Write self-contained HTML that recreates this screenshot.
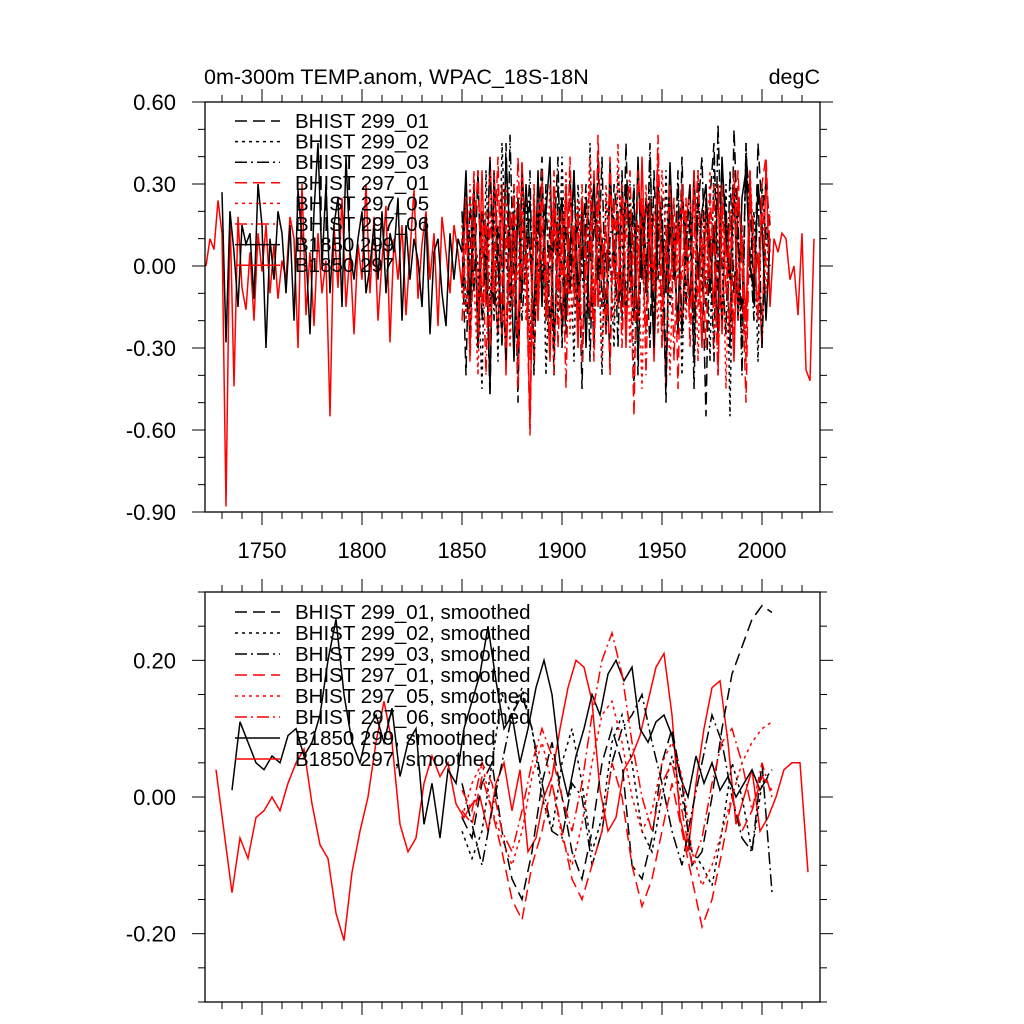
<!DOCTYPE html>
<html><head><meta charset="utf-8"><style>
html,body{margin:0;padding:0;background:#fff;}
svg{display:block;font-family:"Liberation Sans",sans-serif;}
</style></head><body>
<svg id="chart" width="1024" height="1024" viewBox="0 0 1024 1024" xmlns="http://www.w3.org/2000/svg">
<text x="204" y="84" font-size="21.5">0m-300m TEMP.anom, WPAC_18S-18N</text>
<text x="820" y="84" font-size="21.5" text-anchor="end">degC</text>
<g id="top"></g>
<g id="bot"></g>
</svg>
<script>
const labels = ["BHIST 299_01","BHIST 299_02","BHIST 299_03","BHIST 297_01","BHIST 297_05","BHIST 297_06","B1850 299","B1850 297"];
const xTicks = [1750,1800,1850,1900,1950,2000];
const topYTicks = [0.6,0.3,0,-0.3,-0.6,-0.9];
const topYLabels = ["0.60","0.30","0.00","-0.30","-0.60","-0.90"];
const botYTicks = [0.2,0,-0.2];
const botYLabels = ["0.20","0.00","-0.20"];

const b297Start = 1722, b297Step = 2;
const b297 = [0.00,0.10,0.06,0.24,0.12,-0.88,0.20,-0.44,0.18,-0.08,-0.16,0.05,-0.20,0.12,-0.02,0.15,-0.10,0.08,-0.12,0.02,
-0.05,0.18,0.10,-0.30,0.30,-0.18,0.05,-0.22,0.12,-0.10,0.02,-0.55,0.15,-0.08,0.25,-0.15,0.05,-0.25,0.08,-0.05,
0.30,-0.10,0.18,-0.20,0.02,0.22,-0.28,0.10,-0.05,0.15,-0.18,0.05,0.28,-0.12,0.08,0.20,-0.05,0.12,-0.22,0.18,
0.05,-0.10,0.15,0.05,-0.08,0.25,-0.32,0.30,-0.20,0.35,-0.15,0.40,-0.05,-0.25,0.30,-0.40,0.20,0.10,-0.30,0.38,
0.05,-0.58,0.25,-0.20,0.30,0.00,-0.35,0.20,0.10,-0.25,0.30,-0.10,0.15,-0.30,0.25,0.05,-0.20,0.35,-0.15,0.10,
-0.25,0.30,0.00,-0.15,0.28,-0.30,0.20,0.05,-0.20,0.40,-0.10,0.25,-0.35,0.15,0.05,-0.45,0.30,-0.05,0.20,-0.25,
0.15,0.30,-0.20,0.05,-0.30,0.25,0.10,-0.15,0.30,-0.25,0.20,0.00,-0.35,0.25,0.10,-0.20,0.35,-0.10,0.05,-0.30,
0.38,-0.15,0.10,0.05,0.12,0.10,-0.05,0.00,-0.18,0.12,-0.38,-0.42,0.10];
const b299Start = 1730, b299Step = 2;
const b299 = [0.27,-0.28,0.20,0.05,-0.15,0.15,0.08,0.12,-0.12,0.30,0.15,-0.30,0.10,-0.05,0.20,0.12,-0.10,0.15,-0.20,0.28,
0.10,0.05,-0.25,0.20,0.45,0.00,0.30,-0.10,0.15,0.25,-0.15,0.40,0.05,-0.05,0.10,0.20,-0.10,0.00,0.15,-0.05,
0.20,-0.10,0.12,0.05,0.25,-0.20,0.15,-0.05,0.10,0.02,-0.15,0.18,-0.25,0.05,0.10,-0.10,-0.22,0.12,-0.05,0.10,
0.05,0.35,-0.15,0.30,-0.30,0.20,0.10,-0.45,0.35,0.00,-0.25,0.40,0.10,-0.35,0.25,-0.10,0.30,0.05,-0.20,0.35,
-0.15,0.20,0.40,-0.30,0.10,0.25,-0.20,0.05,0.35,-0.10,0.20,-0.30,0.15,0.30,-0.05,0.10,-0.25,0.38,0.00,0.20,
-0.15,0.30,0.10,-0.20,0.40,-0.05,0.25,0.05,-0.30,0.30,0.15,-0.10,0.38,0.00,-0.20,0.25,0.10,-0.15,0.35,-0.05,
0.20,0.30,-0.10,0.15,-0.25,0.40,0.10,-0.05,0.30,-0.20,0.25,0.35,0.00,-0.10,0.30,0.15,-0.20,0.10];
const histStart = 1850, histStep = 2;
const h29901 = [0.10,-0.40,0.25,-0.10,0.35,-0.20,0.05,-0.48,0.30,0.10,-0.30,0.45,-0.15,0.20,-0.50,0.35,-0.05,0.25,-0.35,0.10,
0.40,-0.20,0.15,-0.40,0.30,0.00,-0.25,0.35,-0.10,0.20,-0.45,0.25,0.10,-0.30,0.40,-0.15,0.05,-0.35,0.30,0.15,
-0.20,0.45,-0.10,0.25,-0.40,0.20,0.05,-0.30,0.35,-0.05,0.15,-0.50,0.30,0.10,-0.25,0.40,-0.15,0.20,-0.35,0.30,
0.05,-0.55,0.25,0.45,-0.10,0.35,0.20,-0.30,0.50,0.10,-0.20,0.40,0.25,-0.15,0.45,0.20,0.30,0.15];
const h29902 = [-0.10,0.30,-0.25,0.15,0.00,-0.45,0.35,-0.15,0.20,-0.35,0.45,0.05,-0.20,0.30,-0.40,0.10,0.25,-0.30,0.15,-0.10,
0.35,-0.40,0.05,0.25,-0.20,0.40,-0.10,0.10,-0.35,0.30,0.00,-0.25,0.45,-0.20,0.15,-0.40,0.25,0.05,-0.30,0.35,
0.10,-0.20,0.30,-0.45,0.15,0.05,-0.25,0.40,-0.10,0.20,-0.30,0.35,-0.15,0.00,0.30,-0.40,0.20,0.10,-0.25,0.35,
-0.10,0.25,-0.35,0.40,0.05,-0.20,0.30,-0.55,0.35,0.10,-0.30,0.45,-0.05,0.20,-0.35,0.30,0.10,0.00];
const h29903 = [0.20,-0.15,0.05,0.30,-0.30,0.10,-0.05,0.40,-0.20,0.15,0.00,-0.35,0.48,-0.10,0.25,-0.20,0.05,0.35,-0.40,0.20,
-0.05,0.30,-0.25,0.10,0.40,-0.30,0.15,-0.10,0.35,-0.20,0.05,0.30,-0.35,0.20,-0.05,0.40,-0.25,0.10,0.20,-0.30,
0.35,-0.15,0.05,0.30,-0.35,0.20,-0.10,0.45,-0.20,0.10,0.25,-0.40,0.15,-0.05,0.35,-0.25,0.05,0.30,-0.45,0.20,
0.40,-0.15,0.10,-0.35,0.52,0.00,-0.25,0.35,-0.10,0.20,-0.40,0.45,0.05,-0.20,0.30,-0.30,0.15,0.05];
const h29701 = [-0.05,0.25,-0.35,0.10,0.35,-0.15,0.20,-0.30,0.05,0.40,-0.25,0.15,-0.10,0.30,-0.45,0.20,0.00,-0.62,0.25,-0.10,
0.35,-0.20,0.05,0.25,-0.30,0.15,-0.10,0.40,-0.15,0.20,-0.35,0.10,0.30,-0.25,0.48,-0.05,0.15,-0.40,0.25,-0.10,
0.30,-0.20,0.05,-0.55,0.35,0.10,-0.25,0.20,-0.05,0.40,-0.30,0.15,-0.10,0.25,-0.45,0.30,0.05,-0.20,0.35,-0.15,
0.10,-0.30,0.25,0.05,-0.40,0.30,-0.10,0.20,-0.25,0.35,0.00,-0.50,0.25,0.10,-0.20,0.30,0.40,0.05];
const h29705 = [0.15,-0.20,0.30,-0.05,-0.40,0.20,0.10,-0.25,0.35,-0.15,0.05,0.30,-0.30,0.15,-0.05,0.38,-0.20,0.10,-0.35,0.25,
0.05,-0.15,0.30,-0.40,0.20,-0.05,0.35,-0.25,0.10,0.25,-0.30,0.05,0.40,-0.15,0.20,-0.35,0.30,0.00,-0.20,0.45,
-0.10,0.25,-0.30,0.15,0.05,-0.45,0.30,-0.05,0.20,-0.25,0.35,0.10,-0.40,0.15,-0.05,0.30,-0.20,0.10,0.25,-0.35,
0.20,-0.10,0.35,-0.30,0.05,0.25,-0.45,0.15,0.30,-0.20,0.10,-0.30,0.35,0.05,-0.15,0.25,-0.10,0.20];
const h29706 = [-0.20,0.10,-0.05,0.35,-0.25,0.15,-0.40,0.20,-0.10,0.30,0.05,-0.30,0.20,-0.15,0.40,-0.05,0.10,-0.35,0.30,-0.20,
0.15,0.00,-0.30,0.35,-0.10,0.20,-0.45,0.25,0.05,-0.20,0.30,-0.10,0.15,-0.35,0.25,0.10,-0.25,0.40,-0.05,0.20,
-0.30,0.15,0.35,-0.20,0.05,0.25,-0.40,0.20,-0.10,0.48,-0.15,0.05,0.30,-0.35,0.15,-0.05,0.25,-0.30,0.10,0.35,
-0.25,0.15,-0.05,0.30,-0.40,0.20,0.05,-0.25,0.35,-0.10,0.15,-0.35,0.30,0.10,-0.20,0.25,0.00,0.10];

const smHistStart = 1850, smHistStep = 5;
const s29901 = [-0.03,-0.06,0.02,0.05,-0.05,-0.12,-0.15,-0.08,0.02,0.08,0.00,-0.08,-0.12,-0.05,0.05,0.10,0.05,-0.10,-0.12,-0.06,0.05,0.10,0.02,-0.10,-0.08,0.00,0.10,0.18,0.22,0.26,0.28,0.27];
const s29902 = [-0.05,-0.09,-0.05,0.05,0.15,0.12,0.16,0.10,0.00,-0.05,0.05,0.10,0.02,-0.08,-0.03,0.08,0.12,0.05,-0.05,-0.08,0.00,0.06,0.00,-0.08,-0.10,-0.13,-0.05,0.05,0.00,-0.08,0.02,0.04];
const s29903 = [0.02,-0.04,-0.10,-0.02,0.05,0.12,0.15,0.10,0.02,-0.05,-0.06,0.02,0.00,-0.10,-0.05,0.05,0.10,0.12,0.15,0.08,0.02,-0.05,-0.10,-0.02,0.05,0.12,0.08,0.00,-0.06,-0.08,0.05,-0.14];
const s29701 = [-0.02,-0.04,0.03,-0.02,-0.08,-0.15,-0.18,-0.10,-0.05,0.02,-0.05,-0.12,-0.15,-0.10,-0.05,0.05,0.00,-0.10,-0.16,-0.12,-0.05,0.02,-0.05,-0.12,-0.19,-0.15,-0.08,0.00,-0.05,-0.02,0.03,0.01];
const s29705 = [-0.03,0.02,0.05,-0.02,-0.06,-0.10,-0.05,0.03,0.08,0.02,-0.06,-0.10,-0.04,0.05,0.12,0.14,0.08,0.00,-0.05,-0.02,0.05,0.08,0.03,-0.08,-0.13,-0.10,-0.05,0.00,0.05,0.08,0.10,0.11];
const s29706 = [0.01,-0.02,0.05,0.02,-0.05,-0.08,-0.02,0.05,0.10,0.06,0.00,-0.05,0.02,0.12,0.20,0.24,0.18,0.08,0.00,-0.05,0.02,0.05,-0.02,-0.10,-0.06,0.02,0.08,0.10,0.05,-0.02,0.05,0.00];
const sb297Start = 1727, sb297Step = 4;
const sb297 = [0.04,-0.05,-0.14,-0.06,-0.09,-0.03,-0.02,0.00,-0.02,0.02,0.05,0.07,-0.01,-0.07,-0.09,-0.17,-0.21,-0.11,-0.05,0.00,0.08,0.14,0.08,-0.04,-0.08,-0.06,0.02,0.06,0.03,0.05,-0.01,-0.03,-0.01,0.00,-0.05,0.02,0.05,-0.02,0.04,-0.08,-0.06,0.00,0.03,0.10,0.16,0.20,0.19,0.14,0.01,-0.05,-0.03,0.04,0.06,0.09,0.14,0.19,0.21,0.12,-0.03,-0.08,0.02,0.10,0.16,0.17,0.08,-0.04,0.00,0.04,-0.05,-0.03,0.00,0.04,0.05,0.05,-0.11];
const sb299Start = 1735, sb299Step = 4;
const sb299 = [0.01,0.11,0.08,0.05,0.04,0.06,0.05,0.09,0.10,0.06,0.08,0.12,0.20,0.26,0.15,0.08,0.05,0.10,0.12,0.08,0.13,0.03,0.08,0.10,-0.04,0.02,-0.06,0.04,0.02,0.10,0.14,0.18,0.25,0.17,0.10,0.12,0.05,0.10,0.16,0.20,0.15,0.05,0.00,0.06,0.10,0.15,0.12,0.18,0.20,0.17,0.19,0.10,0.08,0.11,0.12,0.09,0.03,0.00,0.06,0.02,0.05,0.01,0.03,0.00,0.02,0.04,0.01,0.03];

const NS = "http://www.w3.org/2000/svg";
const X0 = 205, X1 = 820;
const yearMin = 1721.5, yearMax = 2029;
function xs(yr){ return X0 + (yr - yearMin) / (yearMax - yearMin) * (X1 - X0); }
const topP = {top:102, bottom:512, min:-0.9, max:0.6};
const botP = {top:592, bottom:1002, min:-0.3, max:0.3};
function ys(p, v){ return p.bottom - (v - p.min) / (p.max - p.min) * (p.bottom - p.top); }

function mk(tag, attrs, parent){
  const e = document.createElementNS(NS, tag);
  for (const k in attrs) e.setAttribute(k, attrs[k]);
  parent.appendChild(e);
  return e;
}
const styles = [
  {c:"#000", d:"12,6"},{c:"#000", d:"3,4"},{c:"#000", d:"12,4,2,4"},
  {c:"#f00", d:"12,6"},{c:"#f00", d:"3,4"},{c:"#f00", d:"12,4,2,4"},
  {c:"#000", d:""},{c:"#f00", d:""}
];

function drawSeries(g, p, arr, start, step, st, name){
  let d = "";
  arr.forEach((v,i)=>{ d += (i?"L":"M") + xs(start + i*step).toFixed(1) + "," + ys(p,v).toFixed(1); });
  const e = mk("path", {d:d, fill:"none", stroke:st.c, "stroke-width":"1.5", "stroke-dasharray":st.d||"none"}, g);
  
  
}

function drawAxes(g, p, yTicks, yLabels, minorStep, showX, panel){
  const box = mk("rect", {x:X0, y:p.top, width:X1-X0, height:p.bottom-p.top, fill:"none", stroke:"#000", "stroke-width":"1.3"}, g);
  
  
  for (let v = p.min; v <= p.max + 1e-9; v += minorStep){
    const y = ys(p, v);
    const major = yTicks.some(t => Math.abs(t - v) < 1e-6);
    const L = major ? 13 : 7;
    const t1 = mk("line", {x1:X0-L, x2:X0, y1:y, y2:y, stroke:"#000", "stroke-width":"1"}, g);
    
    
    const t2 = mk("line", {x1:X1, x2:X1+L, y1:y, y2:y, stroke:"#000", "stroke-width":"1"}, g);
    
    
  }
  yTicks.forEach((v,i)=>{
    const t = mk("text", {x:176, y:ys(p,v)+8, "font-size":"22", "text-anchor":"end"}, g);
    t.textContent = yLabels[i];
    
    
  });
  for (let yr = 1730; yr <= 2020; yr += 10){
    const x = xs(yr);
    const major = xTicks.includes(yr);
    const L = major ? 13 : 7;
    const a = mk("line", {x1:x, x2:x, y1:p.bottom, y2:p.bottom+L, stroke:"#000", "stroke-width":"1"}, g);
    
    
    const b = mk("line", {x1:x, x2:x, y1:p.top-L, y2:p.top, stroke:"#000", "stroke-width":"1"}, g);
    
    
  }
  if (showX){
    xTicks.forEach(yr=>{
      const t = mk("text", {x:xs(yr), y:p.bottom+46, "font-size":"22", "text-anchor":"middle"}, g);
      t.textContent = yr;
      
      
    });
  }
}

function drawLegend(g, y0, dy, suffix, panel){
  labels.forEach((lab,i)=>{
    const y = y0 + i*dy;
    const ln = mk("line", {x1:235, x2:280, y1:y, y2:y, stroke:styles[i].c, "stroke-width":"1.5", "stroke-dasharray":styles[i].d||"none"}, g);
    
    
    const t = mk("text", {x:295, y:y+7, "font-size":"20.5"}, g);
    t.textContent = lab + suffix;
    
    
  });
}

const gt = document.getElementById("top");
drawSeries(gt, topP, b297, b297Start, b297Step, styles[7], "b1850-297-line");
drawSeries(gt, topP, b299, b299Start, b299Step, styles[6], "b1850-299-line");
[h29901,h29902,h29903,h29701,h29705,h29706].forEach((a,i)=>drawSeries(gt, topP, a, histStart, histStep, styles[i], "bhist-line-"+i));
drawAxes(gt, topP, topYTicks, topYLabels, 0.1, true, "top");
drawLegend(gt, 121, 20.6, "", "top");

const gb = document.getElementById("bot");
drawSeries(gb, botP, sb297, sb297Start, sb297Step, styles[7], "b1850-297-smoothed-line");
drawSeries(gb, botP, sb299, sb299Start, sb299Step, styles[6], "b1850-299-smoothed-line");
[s29901,s29902,s29903,s29701,s29705,s29706].forEach((a,i)=>drawSeries(gb, botP, a, smHistStart, smHistStep, styles[i], "bhist-smoothed-line-"+i));
drawAxes(gb, botP, botYTicks, botYLabels, 0.05, false, "bottom");
drawLegend(gb, 612, 21, ", smoothed", "bottom");
</script>
</body></html>
